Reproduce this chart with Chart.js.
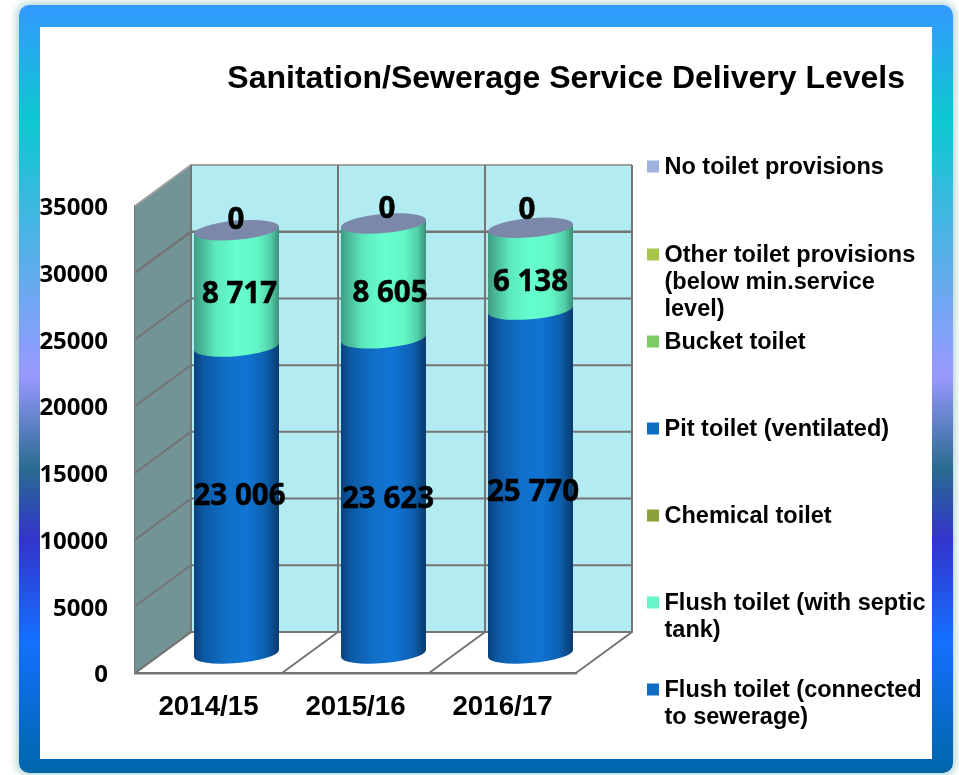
<!DOCTYPE html>
<html>
<head>
<meta charset="utf-8">
<style>
html,body{margin:0;padding:0;background:#fff;width:959px;height:775px;overflow:hidden}
#frame{position:absolute;left:19px;top:5px;width:934px;height:768px;border-radius:10px;box-shadow:0 0 9px 2px #a9cfd0;
background:linear-gradient(180deg,#3399ff 0,#0cc8d0 115px,#9999ff 370px,#2a6a90 465px,#3333cc 535px,#1470ff 635px,#0066aa 768px)}
#panel{position:absolute;left:40px;top:27px;width:892px;height:732px;background:#fff}
#wrap{position:absolute;left:0;top:0;width:959px;height:775px}
</style>
<script src="https://cdn.jsdelivr.net/npm/chart.js@4"></script>
</head>
<body>
<div id="frame"></div><div id="panel"></div>
<div id="wrap"><canvas id="c" width="959" height="775"></canvas></div>
<script>
const categories = ['2014/15','2015/16','2016/17'];
const flushSewerage = [23006,23623,25770];
const flushSeptic = [8717,8605,6138];
const chemical = [0,0,0];
const pitVentilated = [0,0,0];
const bucket = [0,0,0];
const otherBelowMin = [0,0,0];
const noToilet = [0,0,0];
const seriesNames = ['Flush toilet (connected\nto sewerage)','Flush toilet (with septic\ntank)','Chemical toilet','Pit toilet (ventilated)','Bucket toilet','Other toilet provisions\n(below min.service\nlevel)','No toilet provisions'];
const yTicks = [0,5000,10000,15000,20000,25000,30000,35000];
const titleText = 'Sanitation/Sewerage Service Delivery Levels';

// 3-D projection settings
const WALL_DX = 56, WALL_DY = -41, BAR_DX = 28, BAR_DY = -19.5, SHEAR = -0.082, RY = 9.6;
const GRID = '#757575';
const blueStops = [[0,'#0a3f7c'],[0.12,'#0c5aa6'],[0.4,'#1070c8'],[0.62,'#1174d4'],[0.85,'#0d5fae'],[1,'#0a3a6c']];
const mintStops = [[0,'#3f9c84'],[0.25,'#5ce8bc'],[0.5,'#66ffcf'],[0.75,'#62f5c6'],[0.9,'#52cfa8'],[1,'#3a8f78']];
const legendColors = ['#0f6cc4','#66f5c8','#8aa03b','#0f6cc4','#7ecb66','#a9c44a','#9fb3de'];
const legendRowY = [689,602,515,428,341,254,166];
const legendLineH = 27;
const labelNudgeX = [[3,4.5,2.5],[3,6.5,0],[-0.5,3.5,-3.5]];
const labelNudgeY = [[-3,4,11],[6.5,13,14],[-10,-13.5,-17]];

function cylFill(stops, fallback){
  return function(c){
    const ch = c.chart;
    if (c.dataIndex === undefined || !ch.chartArea || !ch.scales.x) return fallback;
    const xc = ch.scales.x.getPixelForValue(c.dataIndex);
    const hw = ch.scales.x.width / categories.length * 0.578 / 2;
    const g = ch.ctx.createLinearGradient(xc - hw, 0, xc + hw, 0);
    stops.forEach(s => g.addColorStop(s[0], s[1]));
    return g;
  };
}
function barSpace(ctx, xc){
  ctx.translate(BAR_DX, BAR_DY);
  ctx.transform(1, SHEAR, 0, 1, 0, -SHEAR * xc);
}
function lowerCurve(el, ctx){
  ctx.save();
  barSpace(ctx, el.x);
  ctx.fillStyle = el.options.backgroundColor;
  ctx.beginPath();
  ctx.moveTo(el.x - el.width / 2, el.base - 1.5);
  ctx.lineTo(el.x + el.width / 2, el.base - 1.5);
  ctx.lineTo(el.x + el.width / 2, el.base);
  ctx.ellipse(el.x, el.base, el.width / 2, RY, 0, 0, Math.PI);
  ctx.closePath();
  ctx.fill();
  ctx.restore();
}
const baseBarDraw = Chart.BarElement.prototype.draw;
Chart.BarElement.prototype.draw = function(ctx){
  if (Math.abs(this.base - this.y) < 0.01) return;
  ctx.save();
  barSpace(ctx, this.x);
  baseBarDraw.call(this, ctx);
  ctx.restore();
  lowerCurve(this, ctx);
};

const walls = {
  id:'walls',
  beforeDatasetsDraw(ch){
    const {ctx, chartArea:a, scales:{x, y}} = ch;
    ctx.save();
    ctx.fillStyle = '#b2ebf2';
    ctx.fillRect(a.left + WALL_DX, a.top + WALL_DY, a.right - a.left, a.bottom - a.top);
    ctx.fillStyle = '#739497';
    ctx.beginPath();
    ctx.moveTo(a.left, a.top); ctx.lineTo(a.left + WALL_DX, a.top + WALL_DY);
    ctx.lineTo(a.left + WALL_DX, a.bottom + WALL_DY); ctx.lineTo(a.left, a.bottom);
    ctx.closePath(); ctx.fill();
    yTicks.forEach(v => {
      const py = y.getPixelForValue(v);
      ctx.strokeStyle = v === 35000 ? '#a0a0a0' : GRID;
      ctx.lineWidth = v === 30000 ? 2.6 : 2;
      ctx.beginPath();
      ctx.moveTo(a.left, py); ctx.lineTo(a.left + WALL_DX, py + WALL_DY);
      ctx.lineTo(a.right + WALL_DX, py + WALL_DY);
      ctx.stroke();
    });
    ctx.strokeStyle = GRID; ctx.lineWidth = 2;
    const step = x.width / categories.length;
    for (let i = 0; i <= categories.length; i++){
      const px = a.left + i * step;
      ctx.beginPath();
      if (i > 0){ ctx.moveTo(px, a.bottom); ctx.lineTo(px + WALL_DX, a.bottom + WALL_DY); }
      else ctx.moveTo(px + WALL_DX, a.bottom + WALL_DY);
      ctx.lineTo(px + WALL_DX, a.top + WALL_DY);
      ctx.stroke();
    }
    ctx.beginPath(); ctx.moveTo(a.left, a.bottom); ctx.lineTo(a.left + WALL_DX, a.bottom + WALL_DY); ctx.stroke();
    ctx.restore();
  },
  afterDatasetsDraw(ch){
    const {ctx} = ch;
    // the upper segment's curved lower edge sits over the segment beneath it
    ch.getDatasetMeta(1).data.forEach(el => lowerCurve(el, ctx));
    // top caps of the cylinders, on the topmost series
    const capMeta = ch.getDatasetMeta(6);
    capMeta.data.forEach(el => {
      ctx.save();
      barSpace(ctx, el.x);
      ctx.fillStyle = '#7b88a9';
      ctx.beginPath();
      ctx.ellipse(el.x, el.y, el.width / 2, RY, 0, 0, 2 * Math.PI);
      ctx.fill();
      ctx.restore();
    });
    // value labels
    ctx.save();
    ctx.font = 'bold 29.5px "Open Sans"';
    ctx.fillStyle = '#000';
    ctx.strokeStyle = '#000';
    ctx.lineWidth = 0.5;
    ctx.textAlign = 'center';
    ctx.textBaseline = 'middle';
    [0,1,6].forEach((ds, k) => {
      const meta = ch.getDatasetMeta(ds);
      meta.data.forEach((el, i) => {
        const v = ch.data.datasets[ds].data[i];
        const t = String(v).replace(/\B(?=(\d{3})+$)/g, ' ');
        const px = el.x + BAR_DX + labelNudgeX[k][i];
        const py = (el.y + el.base) / 2 + BAR_DY + labelNudgeY[k][i];
        ctx.fillText(t, px, py);
        ctx.strokeText(t, px, py);
      });
    });
    ctx.restore();
  }
};

const legendBox = {
  id:'sideLegend',
  beforeInit(ch){
    const box = {
      position:'right', weight:0, fullSize:false, options:{},
      left:0, top:0, right:0, bottom:0, width:329, height:0,
      isHorizontal(){ return false; },
      update(w, h){ this.width = 329; this.height = h; },
      draw(){
        const ctx = ch.ctx;
        ctx.save();
        ctx.font = 'bold 23.5px "Liberation Sans"';
        ctx.textAlign = 'left';
        ctx.textBaseline = 'middle';
        seriesNames.forEach((name, i) => {
          const y0 = legendRowY[i];
          ctx.fillStyle = legendColors[i];
          ctx.fillRect(647, y0 - 5.5, 12, 12);
          ctx.fillStyle = '#000';
          name.split('\n').forEach((line, j) => ctx.fillText(line, 664.5, y0 + j * legendLineH + 2));
        });
        ctx.restore();
      }
    };
    Chart.layouts.addBox(ch, box);
  }
};

new Chart(document.getElementById('c'), {
  type:'bar',
  data:{
    labels:categories,
    datasets:[
      {label:seriesNames[0], data:flushSewerage, backgroundColor:cylFill(blueStops,'#0f6cc4')},
      {label:seriesNames[1], data:flushSeptic, backgroundColor:cylFill(mintStops,'#66f5c8')},
      {label:seriesNames[2], data:chemical, backgroundColor:legendColors[2]},
      {label:seriesNames[3], data:pitVentilated, backgroundColor:legendColors[3]},
      {label:seriesNames[4], data:bucket, backgroundColor:legendColors[4]},
      {label:seriesNames[5], data:otherBelowMin, backgroundColor:legendColors[5]},
      {label:seriesNames[6], data:noToilet, backgroundColor:legendColors[6]}
    ]
  },
  options:{
    responsive:false,
    animation:false,
    devicePixelRatio:1,
    layout:{padding:{left:0,right:54,top:0,bottom:0}},
    datasets:{bar:{categoryPercentage:1,barPercentage:0.578,borderWidth:0,clip:false}},
    plugins:{
      legend:{display:false},
      tooltip:{enabled:false},
      title:{display:true,text:titleText,align:'end',color:'#000',
        font:{family:'"Liberation Sans"',size:32,weight:'bold',lineHeight:1.2},
        padding:{top:60,bottom:107.6}}
    },
    scales:{
      x:{stacked:true,grid:{display:false},border:{display:true,color:GRID,width:2.5},
        ticks:{color:'#000',padding:10,maxRotation:0,font:{family:'"Liberation Sans"',size:27.7,weight:'bold'}},
        afterFit(s){ s.height = 102; }},
      y:{stacked:true,min:0,max:35000,grid:{display:false},border:{display:true,color:GRID,width:2.5},
        afterBuildTicks(s){ s.ticks = yTicks.map(v => ({value:v})); },
        ticks:{color:'#000',padding:19,labelOffset:2.5,callback:v => String(v),font:{family:'"Open Sans"',size:24,weight:'bold'}},
        afterFit(s){ s.width = 135; }}
    }
  },
  plugins:[walls,legendBox]
});
</script>
</body>
</html>
